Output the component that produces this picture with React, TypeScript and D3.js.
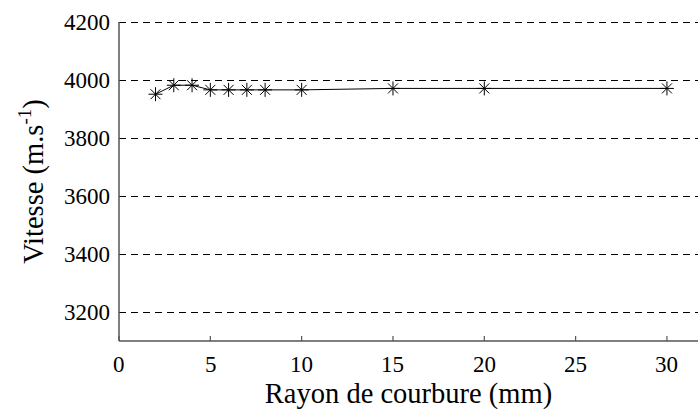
import React from "react";
import * as d3 from "d3";

const radii = [2, 3, 4, 5, 6, 7, 8, 10, 15, 20, 30];
const speeds = [3951, 3982, 3982, 3966, 3966, 3966, 3966, 3966, 3971, 3971, 3971];
const xTicks = [0, 5, 10, 15, 20, 25, 30];
const yTicks = [3200, 3400, 3600, 3800, 4000, 4200];
const xLabel = "Rayon de courbure (mm)";

const W = 698;
const H = 416;
const M = { left: 119, right: 0, top: 22, bottom: 75 };
const FONT = "Liberation Serif";
const TICK_SIZE = 23;

export default function App() {
  const x = d3.scaleLinear().domain([0, 31.7]).range([M.left, W - M.right]);
  const y = d3.scaleLinear().domain([3100, 4200]).range([H - M.bottom, M.top]);
  const line = d3
    .line<number>()
    .x((_, i) => x(radii[i]))
    .y((d) => y(d));
  const axisColor = "#555";
  const yr = (v: number) => Math.round(y(v)) + 0.5;
  const digitW = TICK_SIZE * 0.5;
  return (
    <div style={{ position: "absolute", left: 0, top: 0 }}>
      <svg width={W} height={H}>
        <rect x={0} y={0} width={W} height={H} fill="#fff" />
        {yTicks.map((t) => (
          <line
            key={"g" + t}
            x1={x(0)}
            x2={W}
            y1={yr(t)}
            y2={yr(t)}
            stroke="#000"
            strokeWidth={1}
            strokeDasharray="7,5"
            shapeRendering="crispEdges"
          />
        ))}
        {yTicks.map((t) => {
          const s = String(t);
          return (
            <text
              key={"t" + t}
              x={Math.round(x(0) - 9 - s.length * digitW)}
              y={Math.round(y(t) + 8)}
              fontSize={TICK_SIZE}
              fontFamily={FONT}
            >
              {s}
            </text>
          );
        })}
        {xTicks.map((t) => (
          <line
            key={"k" + t}
            x1={x(t)}
            x2={x(t)}
            y1={y(3100)}
            y2={y(3100) - 5}
            stroke={axisColor}
            strokeWidth={1.2}
          />
        ))}
        {xTicks.map((t) => {
          const s = String(t);
          return (
            <text
              key={"x" + t}
              x={Math.round(x(t) - (s.length * digitW) / 2)}
              y={Math.round(y(3100) + 31)}
              fontSize={TICK_SIZE}
              fontFamily={FONT}
            >
              {s}
            </text>
          );
        })}
        <line x1={x(0)} x2={x(0)} y1={y(4200)} y2={y(3100)} stroke={axisColor} strokeWidth={1.5} />
        <line x1={x(0)} x2={W} y1={y(3100)} y2={y(3100)} stroke={axisColor} strokeWidth={1.5} />
        <path d={line(speeds) || ""} fill="none" stroke="#000" strokeWidth={1} />
        {speeds.map((v, i) => {
          const cx = x(radii[i]);
          const cy = y(v);
          const a = 7;
          const b = 5;
          return (
            <g key={i} stroke="#000" strokeWidth={1}>
              <line x1={cx - a} x2={cx + a} y1={cy} y2={cy} />
              <line x1={cx} x2={cx} y1={cy - a} y2={cy + a} />
              <line x1={cx - b} x2={cx + b} y1={cy - b} y2={cy + b} />
              <line x1={cx - b} x2={cx + b} y1={cy + b} y2={cy - b} />
            </g>
          );
        })}
        <text x={(x(0) + W) / 2} y={403} textAnchor="middle" fontSize={28.5} fontFamily={FONT}>
          {xLabel}
        </text>
        <text
          transform={`translate(43, ${(y(4200) + y(3100)) / 2}) rotate(-90)`}
          textAnchor="middle"
          fontSize={28.5}
          fontFamily={FONT}
        >
          Vitesse (m.s
          <tspan dy={-12} fontSize={19}>-1</tspan>
          <tspan dy={12}>)</tspan>
        </text>
      </svg>
    </div>
  );
}
